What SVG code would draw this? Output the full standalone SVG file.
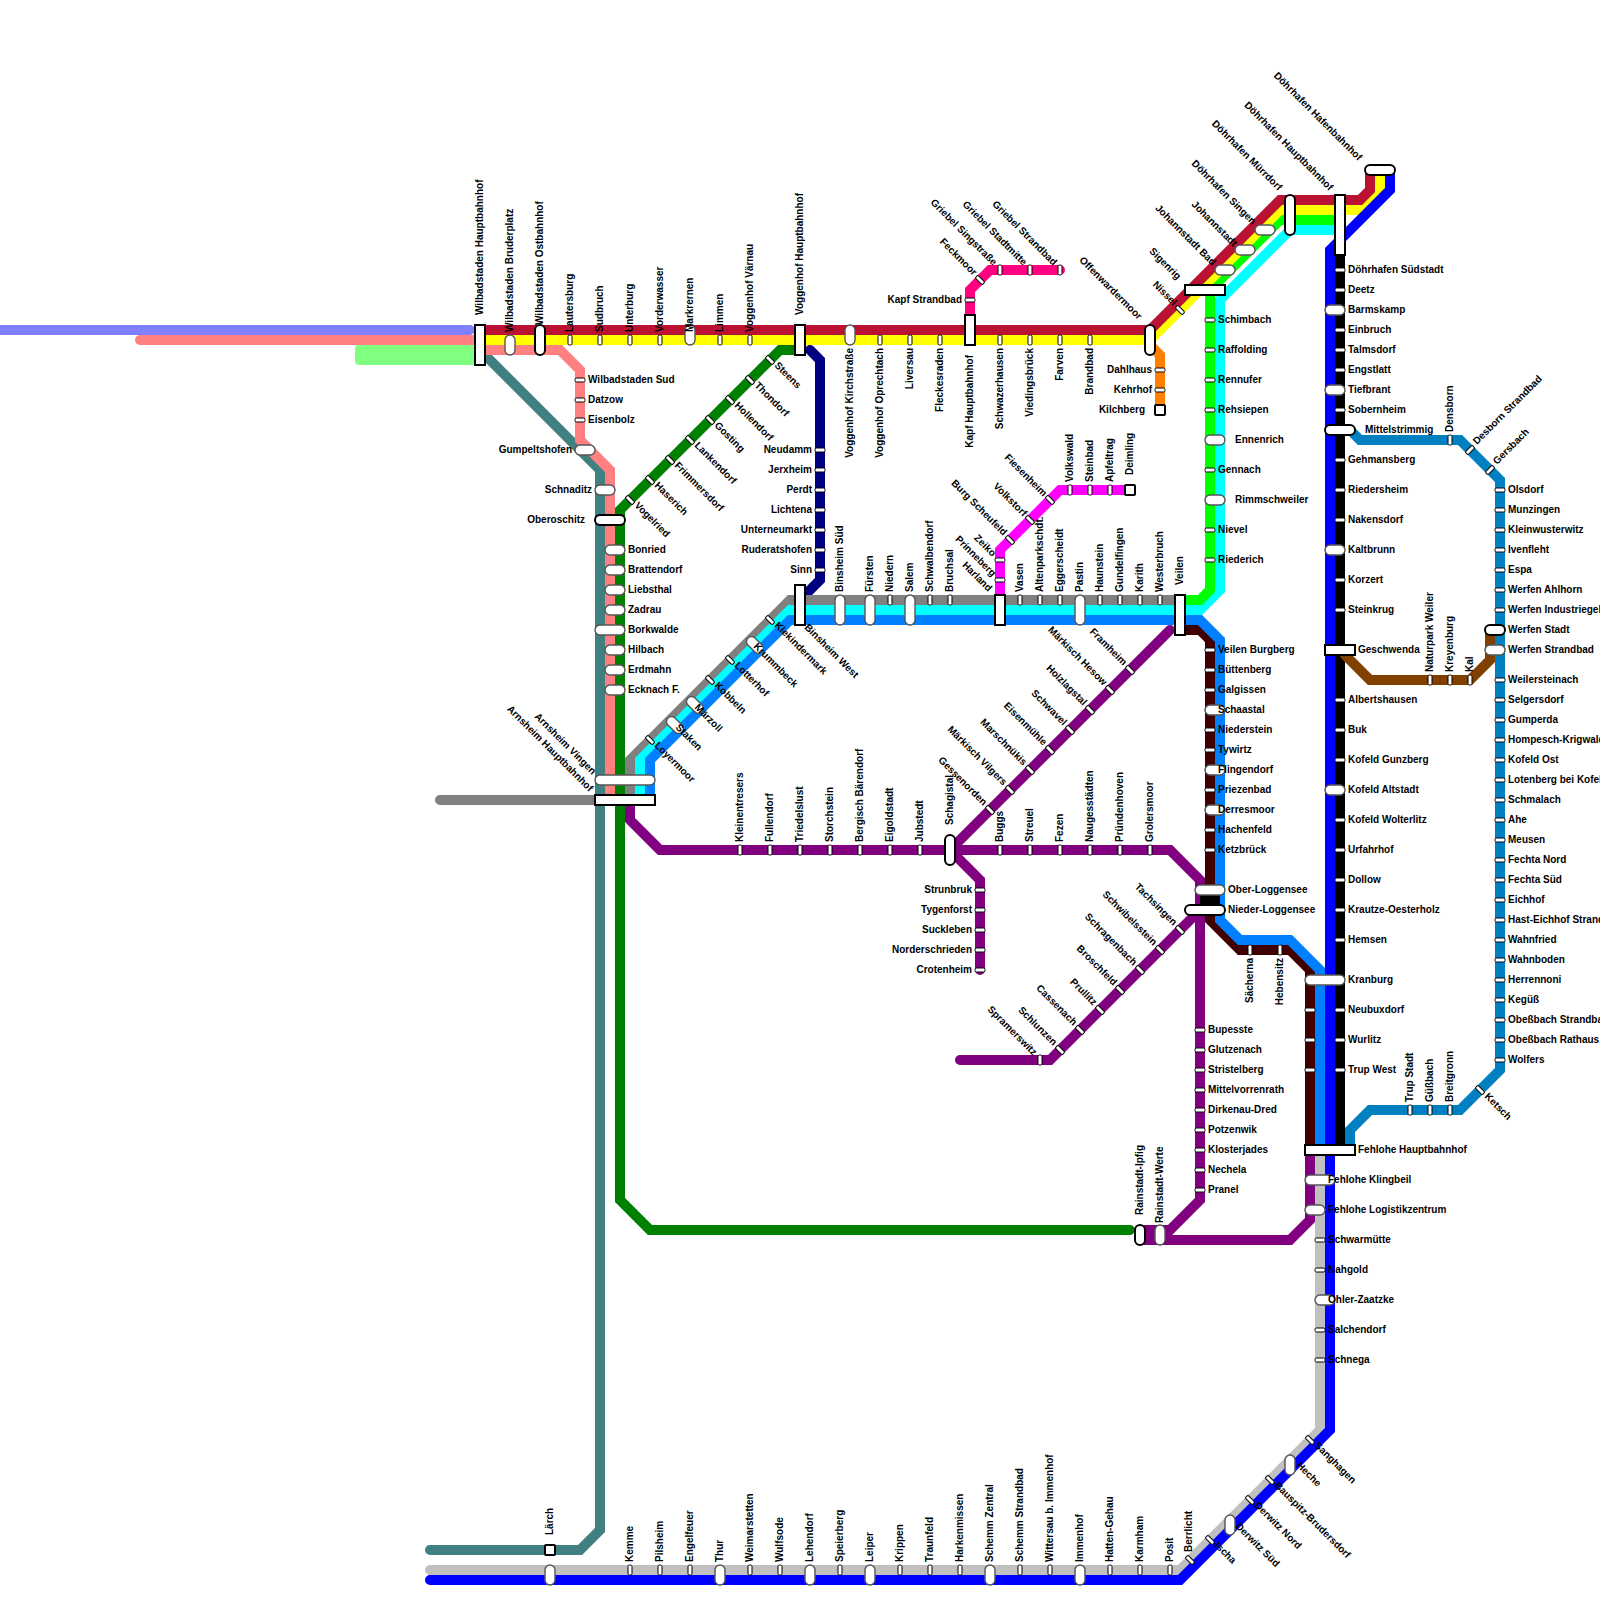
<svg xmlns="http://www.w3.org/2000/svg" width="1600" height="1600" viewBox="0 0 1600 1600">
<style>
text{font:bold 10px "Liberation Sans",Arial,sans-serif;fill:#000}
.e{text-anchor:end}
.sv{fill:#fff;stroke:#000;stroke-width:1;x:-2px;y:-5px;width:4px;height:10px;rx:1.5px}
.sh{fill:#fff;stroke:#000;stroke-width:1;x:-5px;y:-2px;width:10px;height:4px;rx:1.5px}
.p{fill:#fff;stroke:#555;stroke-width:1.4}
.k{fill:#fff;stroke:#000;stroke-width:2}
.r{fill:#fff;stroke:#000;stroke-width:2}
#lines path{fill:none;stroke-width:10;stroke-linecap:round;stroke-linejoin:miter}
</style>
<g id="lines">
<path stroke="#8080ff" d="M0 330H470"/>
<rect fill="#80ff80" x="355" y="345" width="125" height="20" rx="4"/>
<path stroke="#ff8080" d="M140 340H480"/>
<path stroke="#408080" d="M480 350L600 470V1530L580 1550H430"/>
<path stroke="#ff8080" d="M480 350H560L580 370V440L610 470V800"/>
<path stroke="#008000" d="M800 350H780L620 510V1200L650 1230H1130"/>
<path stroke="#000080" d="M810 350L820 360V580L800 600"/>
<path stroke="#808080" d="M440 800H630M630 800V760L790 600H1180"/>
<path stroke="#400000" d="M1180 630H1200L1210 640V920L1240 950H1290L1310 970V1150"/>
<path stroke="#00ffff" d="M640 800V760L790 610H1200L1220 590V300L1290 230H1340"/>
<path stroke="#00ff00" d="M1180 600H1200L1210 590V290L1280 220H1340"/>
<path stroke="#ffff00" d="M480 340H1150L1280 210H1360L1380 190V170"/>
<path stroke="#bb1133" d="M480 330H1150L1280 200H1360L1370 190V170"/>
<path stroke="#0080ff" d="M650 800V760L790 620H1200L1220 640V920L1240 940H1290L1320 970V1150"/>
<path stroke="#c0c0c0" d="M1320 1150V1430L1180 1570H430"/>
<path stroke="#0000ff" d="M1390 170V190L1330 250V1430L1180 1580H430"/>
<path stroke="#000" d="M1340 200V1150"/>
<path stroke="#ff8000" d="M1150 345L1160 355V410"/>
<path stroke="#ff0080" d="M970 320V290L990 270H1060"/>
<path stroke="#ff00ff" d="M1000 595V550L1060 490H1130"/>
<path stroke="#0080c0" d="M1350 430L1360 440H1460L1500 480V1070L1460 1110H1370L1350 1130V1150"/>
<path stroke="#804000" d="M1345 655L1370 680H1470L1490 660V630"/>
<path stroke="#800080" d="M630 805V820L660 850H1170L1200 880V1200L1170 1230H1140M1170 630L950 850L980 880V970M960 1060H1050L1200 910M1310 1155V1220L1290 1240H1140"/>
<path stroke="#000" style="stroke-linecap:butt;stroke-width:20" d="M1210 890V910"/>
</g>
<g id="n-wilbadstaden-hbf"><rect class="r" x="475" y="325" width="10" height="40"/><text transform="translate(483 315) rotate(-90)">Wilbadstaden Hauptbahnhof</text></g>
<g id="n-bruderplatz"><rect class="p" x="505" y="335" width="10" height="20" rx="5"/><text transform="translate(513 332) rotate(-90)">Wilbadstaden Bruderplatz</text></g>
<g id="n-ostbahnhof"><rect class="k" x="535" y="325" width="10" height="30" rx="5"/><text transform="translate(543 325) rotate(-90)">Wilbadstaden Ostbahnhof</text></g>
<g id="n-lautersburg"><rect class="sv" transform="translate(570 340)"/><text transform="translate(573 332) rotate(-90)">Lautersburg</text></g>
<g id="n-sudbruch"><rect class="sv" transform="translate(600 340)"/><text transform="translate(603 332) rotate(-90)">Sudbruch</text></g>
<g id="n-unterburg"><rect class="sv" transform="translate(630 340)"/><text transform="translate(633 332) rotate(-90)">Unterburg</text></g>
<g id="n-vorderwasser"><rect class="sv" transform="translate(660 340)"/><text transform="translate(663 332) rotate(-90)">Vorderwasser</text></g>
<g id="n-markrernen"><rect class="p" x="685" y="325" width="10" height="20" rx="5"/><text transform="translate(693 332) rotate(-90)">Markrernen</text></g>
<g id="n-limmen"><rect class="sv" transform="translate(720 340)"/><text transform="translate(723 332) rotate(-90)">Limmen</text></g>
<g id="n-varnau"><rect class="sv" transform="translate(750 340)"/><text transform="translate(753 332) rotate(-90)">Voggenhof Värnau</text></g>
<g id="n-voggenhof-hbf"><rect class="r" x="795" y="325" width="10" height="30"/><text transform="translate(803 315) rotate(-90)">Voggenhof Hauptbahnhof</text></g>
<g id="n-kirchstrasse"><rect class="p" x="845" y="325" width="10" height="20" rx="5"/><text class="e" transform="translate(853 348) rotate(-90)">Voggenhof Kirchstraße</text></g>
<g id="n-oprechtach"><rect class="sv" transform="translate(880 340)"/><text class="e" transform="translate(883 348) rotate(-90)">Voggenhof Oprechtach</text></g>
<g id="n-liversau"><rect class="sv" transform="translate(910 340)"/><text class="e" transform="translate(913 348) rotate(-90)">Liversau</text></g>
<g id="n-fleckesraden"><rect class="sv" transform="translate(940 340)"/><text class="e" transform="translate(943 348) rotate(-90)">Fleckesraden</text></g>
<g id="n-kapf-hbf"><rect class="r" x="965" y="315" width="10" height="30"/><text class="e" transform="translate(973 355) rotate(-90)">Kapf Hauptbahnhof</text></g>
<g id="n-schwazerhausen"><rect class="sv" transform="translate(1000 340)"/><text class="e" transform="translate(1003 348) rotate(-90)">Schwazerhausen</text></g>
<g id="n-viedingsbruck"><rect class="sv" transform="translate(1030 340)"/><text class="e" transform="translate(1033 348) rotate(-90)">Viedingsbrück</text></g>
<g id="n-farven"><rect class="sv" transform="translate(1060 340)"/><text class="e" transform="translate(1063 348) rotate(-90)">Farven</text></g>
<g id="n-brandbad"><rect class="sv" transform="translate(1090 340)"/><text class="e" transform="translate(1093 348) rotate(-90)">Brandbad</text></g>
<g id="n-offenwardermoor"><rect class="k" x="1145" y="325" width="10" height="30" rx="5"/><text class="e" transform="translate(1138 320) rotate(45)">Offenwardermoor</text></g>
<g id="n-dahlhaus"><rect class="sh" transform="translate(1160 370)"/><text class="e" x="1152" y="373">Dahlhaus</text></g>
<g id="n-kehrhof"><rect class="sh" transform="translate(1160 390)"/><text class="e" x="1152" y="393">Kehrhof</text></g>
<g id="n-kilchberg"><rect class="r" x="1155" y="405" width="10" height="10" rx="1"/><text class="e" x="1145" y="413">Kilchberg</text></g>
<g id="n-kapf-strandbad"><rect class="sh" transform="translate(970 300)"/><text class="e" x="962" y="303">Kapf Strandbad</text></g>
<g id="n-feckmoor"><rect class="sh" transform="translate(980 280) rotate(45)"/><text class="e" transform="translate(973 276) rotate(45)">Feckmoor</text></g>
<g id="n-singstrasse"><rect class="sv" transform="translate(1000 270)"/><text class="e" transform="translate(993 266) rotate(45)">Griebel Singstraße</text></g>
<g id="n-stadtmitte"><rect class="sv" transform="translate(1030 270)"/><text class="e" transform="translate(1023 266) rotate(45)">Griebel Stadtmitte</text></g>
<g id="n-griebel-strandbad"><rect class="sv" transform="translate(1060 270)"/><text class="e" transform="translate(1053 266) rotate(45)">Griebel Strandbad</text></g>
<g id="n-nissel"><rect class="sh" transform="translate(1180 310) rotate(45)"/><text class="e" transform="translate(1173 306) rotate(45)">Nissel</text></g>
<g id="n-sigenrig"><rect class="r" x="1185" y="285" width="40" height="10"/><text class="e" transform="translate(1177 280) rotate(45)">Sigenrig</text></g>
<g id="n-johannstadt-bad"><rect class="p" x="1215" y="265" width="20" height="10" rx="5"/><text class="e" transform="translate(1212 266) rotate(45)">Johannstadt Bad</text></g>
<g id="n-johannstadt"><rect class="p" x="1235" y="245" width="20" height="10" rx="5"/><text class="e" transform="translate(1233 247) rotate(45)">Johannstadt</text></g>
<g id="n-singen"><rect class="p" x="1255" y="225" width="20" height="10" rx="5"/><text class="e" transform="translate(1252 225) rotate(45)">Döhrhafen Singen</text></g>
<g id="n-murrdorf"><rect class="k" x="1285" y="195" width="10" height="40" rx="5"/><text class="e" transform="translate(1278 191) rotate(45)">Döhrhafen Mürrdorf</text></g>
<g id="n-dohrhafen-hbf"><rect class="r" x="1335" y="195" width="10" height="60"/><text class="e" transform="translate(1329 191) rotate(45)">Döhrhafen Hauptbahnhof</text></g>
<g id="n-hafenbahnhof"><rect class="k" x="1365" y="165" width="30" height="10" rx="5"/><text class="e" transform="translate(1358 161) rotate(45)">Döhrhafen Hafenbahnhof</text></g>
<g id="n-wilbad-sud"><rect class="sh" transform="translate(580 380)"/><text x="588" y="383">Wilbadstaden Sud</text></g>
<g id="n-datzow"><rect class="sh" transform="translate(580 400)"/><text x="588" y="403">Datzow</text></g>
<g id="n-eisenbolz"><rect class="sh" transform="translate(580 420)"/><text x="588" y="423">Eisenbolz</text></g>
<g id="n-gumpeltshofen"><rect class="p" x="575" y="445" width="20" height="10" rx="5"/><text class="e" x="572" y="453">Gumpeltshofen</text></g>
<g id="n-schnaditz"><rect class="p" x="595" y="485" width="20" height="10" rx="5"/><text class="e" x="592" y="493">Schnaditz</text></g>
<g id="n-oberoschitz"><rect class="k" x="595" y="515" width="30" height="10" rx="5"/><text class="e" x="585" y="523">Oberoschitz</text></g>
<g id="n-bonried"><rect class="p" x="605" y="545" width="20" height="10" rx="5"/><text x="628" y="553">Bonried</text></g>
<g id="n-brattendorf"><rect class="p" x="605" y="565" width="20" height="10" rx="5"/><text x="628" y="573">Brattendorf</text></g>
<g id="n-liebsthal"><rect class="p" x="605" y="585" width="20" height="10" rx="5"/><text x="628" y="593">Liebsthal</text></g>
<g id="n-zadrau"><rect class="p" x="605" y="605" width="20" height="10" rx="5"/><text x="628" y="613">Zadrau</text></g>
<g id="n-borkwalde"><rect class="p" x="595" y="625" width="30" height="10" rx="5"/><text x="628" y="633">Borkwalde</text></g>
<g id="n-hilbach"><rect class="p" x="605" y="645" width="20" height="10" rx="5"/><text x="628" y="653">Hilbach</text></g>
<g id="n-erdmahn"><rect class="p" x="605" y="665" width="20" height="10" rx="5"/><text x="628" y="673">Erdmahn</text></g>
<g id="n-ecknach"><rect class="p" x="605" y="685" width="20" height="10" rx="5"/><text x="628" y="693">Ecknach F.</text></g>
<g id="n-vingen"><rect class="p" x="595" y="775" width="60" height="10" rx="5"/><text class="e" transform="translate(592 775) rotate(45)">Arnsheim Vingen</text></g>
<g id="n-arnsheim-hbf"><rect class="r" x="595" y="795" width="60" height="10"/><text class="e" transform="translate(589 792) rotate(45)">Arnsheim Hauptbahnhof</text></g>
<g id="n-vogelried"><rect class="sh" transform="translate(630 500) rotate(45)"/><text transform="translate(634 506) rotate(45)">Vogelried</text></g>
<g id="n-haserich"><rect class="sh" transform="translate(650 480) rotate(45)"/><text transform="translate(654 486) rotate(45)">Haserich</text></g>
<g id="n-frimmersdorf"><rect class="sh" transform="translate(670 460) rotate(45)"/><text transform="translate(674 466) rotate(45)">Frimmersdorf</text></g>
<g id="n-lankendorf"><rect class="sh" transform="translate(690 440) rotate(45)"/><text transform="translate(694 446) rotate(45)">Lankendorf</text></g>
<g id="n-gosting"><rect class="sh" transform="translate(710 420) rotate(45)"/><text transform="translate(714 426) rotate(45)">Gosting</text></g>
<g id="n-hollendorf"><rect class="sh" transform="translate(730 400) rotate(45)"/><text transform="translate(734 406) rotate(45)">Hollendorf</text></g>
<g id="n-thondorf"><rect class="sh" transform="translate(750 380) rotate(45)"/><text transform="translate(754 386) rotate(45)">Thondorf</text></g>
<g id="n-steens"><rect class="sh" transform="translate(770 360) rotate(45)"/><text transform="translate(774 366) rotate(45)">Steens</text></g>
<g id="n-neudamm"><rect class="sh" transform="translate(820 450)"/><text class="e" x="812" y="453">Neudamm</text></g>
<g id="n-jerxheim"><rect class="sh" transform="translate(820 470)"/><text class="e" x="812" y="473">Jerxheim</text></g>
<g id="n-perdt"><rect class="sh" transform="translate(820 490)"/><text class="e" x="812" y="493">Perdt</text></g>
<g id="n-lichtena"><rect class="sh" transform="translate(820 510)"/><text class="e" x="812" y="513">Lichtena</text></g>
<g id="n-unterneumarkt"><rect class="sh" transform="translate(820 530)"/><text class="e" x="812" y="533">Unterneumarkt</text></g>
<g id="n-ruderatshofen"><rect class="sh" transform="translate(820 550)"/><text class="e" x="812" y="553">Ruderatshofen</text></g>
<g id="n-sinn"><rect class="sh" transform="translate(820 570)"/><text class="e" x="812" y="573">Sinn</text></g>
<g id="n-binsheim-west"><rect class="r" x="795" y="585" width="10" height="40"/><text transform="translate(804 628) rotate(45)">Binsheim West</text></g>
<g id="n-binsheim-sud"><rect class="p" x="835" y="595" width="10" height="30" rx="5"/><text transform="translate(843 592) rotate(-90)">Binsheim Süd</text></g>
<g id="n-fursten"><rect class="p" x="865" y="595" width="10" height="30" rx="5"/><text transform="translate(873 592) rotate(-90)">Fürsten</text></g>
<g id="n-niedern"><rect class="sv" transform="translate(890 600)"/><text transform="translate(893 592) rotate(-90)">Niedern</text></g>
<g id="n-salem"><rect class="p" x="905" y="595" width="10" height="30" rx="5"/><text transform="translate(913 592) rotate(-90)">Salem</text></g>
<g id="n-schwalbendorf"><rect class="sv" transform="translate(930 600)"/><text transform="translate(933 592) rotate(-90)">Schwalbendorf</text></g>
<g id="n-bruchsal"><rect class="sv" transform="translate(950 600)"/><text transform="translate(953 592) rotate(-90)">Bruchsal</text></g>
<g id="n-harland"><rect class="r" x="995" y="595" width="10" height="30"/><text class="e" transform="translate(988 592) rotate(45)">Harland</text></g>
<g id="n-prinneberg"><rect class="sh" transform="translate(1000 580)"/><text class="e" transform="translate(992 577) rotate(45)">Prinneberg</text></g>
<g id="n-zeiko"><rect class="sh" transform="translate(1000 560)"/><text class="e" transform="translate(992 557) rotate(45)">Zeiko</text></g>
<g id="n-burg-scheufeld"><rect class="sh" transform="translate(1010 540) rotate(45)"/><text class="e" transform="translate(1003 536) rotate(45)">Burg Scheufeld</text></g>
<g id="n-volkstorf"><rect class="sh" transform="translate(1030 520) rotate(45)"/><text class="e" transform="translate(1023 517) rotate(45)">Volkstorf</text></g>
<g id="n-fiesenheim"><rect class="sh" transform="translate(1050 500) rotate(45)"/><text class="e" transform="translate(1043 497) rotate(45)">Fiesenheim</text></g>
<g id="n-volkswald"><rect class="sv" transform="translate(1070 490)"/><text transform="translate(1073 482) rotate(-90)">Volkswald</text></g>
<g id="n-steinbad"><rect class="sv" transform="translate(1090 490)"/><text transform="translate(1093 482) rotate(-90)">Steinbad</text></g>
<g id="n-apfeltrag"><rect class="sv" transform="translate(1110 490)"/><text transform="translate(1113 482) rotate(-90)">Apfeltrag</text></g>
<g id="n-deimling"><rect class="r" x="1125" y="485" width="10" height="10" rx="1"/><text transform="translate(1133 475) rotate(-90)">Deimling</text></g>
<g id="n-vasen"><rect class="sv" transform="translate(1020 600)"/><text transform="translate(1023 592) rotate(-90)">Vasen</text></g>
<g id="n-altenparkschdt"><rect class="sv" transform="translate(1040 600)"/><text transform="translate(1043 592) rotate(-90)">Altenparkschdt.</text></g>
<g id="n-eggerscheidt"><rect class="sv" transform="translate(1060 600)"/><text transform="translate(1063 592) rotate(-90)">Eggerscheidt</text></g>
<g id="n-pastin"><rect class="p" x="1075" y="595" width="10" height="30" rx="5"/><text transform="translate(1083 592) rotate(-90)">Pastin</text></g>
<g id="n-haunstein"><rect class="sv" transform="translate(1100 600)"/><text transform="translate(1103 592) rotate(-90)">Haunstein</text></g>
<g id="n-gundelfingen"><rect class="sv" transform="translate(1120 600)"/><text transform="translate(1123 592) rotate(-90)">Gundelfingen</text></g>
<g id="n-karith"><rect class="sv" transform="translate(1140 600)"/><text transform="translate(1143 592) rotate(-90)">Karith</text></g>
<g id="n-westerbruch"><rect class="sv" transform="translate(1160 600)"/><text transform="translate(1163 592) rotate(-90)">Westerbruch</text></g>
<g id="n-veilen"><rect class="r" x="1175" y="595" width="10" height="40"/><text transform="translate(1183 585) rotate(-90)">Veilen</text></g>
<g id="n-loyermoor"><rect class="sh" transform="translate(650 740) rotate(45)"/><text transform="translate(654 746) rotate(45)">Loyermoor</text></g>
<g id="n-staken"><rect class="p" x="-10" y="-5" width="20" height="10" rx="5" transform="translate(675 725) rotate(45)"/><text transform="translate(675 728) rotate(45)">Staken</text></g>
<g id="n-marzoll"><rect class="p" x="-10" y="-5" width="20" height="10" rx="5" transform="translate(695 705) rotate(45)"/><text transform="translate(694 708) rotate(45)">Märzoll</text></g>
<g id="n-kobbeln"><rect class="sh" transform="translate(710 680) rotate(45)"/><text transform="translate(714 686) rotate(45)">Kobbeln</text></g>
<g id="n-lotterhof"><rect class="sh" transform="translate(730 660) rotate(45)"/><text transform="translate(734 666) rotate(45)">Lotterhof</text></g>
<g id="n-krummbeck"><rect class="p" x="-10" y="-5" width="20" height="10" rx="5" transform="translate(755 645) rotate(45)"/><text transform="translate(753 647) rotate(45)">Krummbeck</text></g>
<g id="n-klekindermark"><rect class="sh" transform="translate(770 620) rotate(45)"/><text transform="translate(774 626) rotate(45)">Klekindermark</text></g>
<g id="n-kleinentresers"><rect class="sv" transform="translate(740 850)"/><text transform="translate(743 842) rotate(-90)">Kleinentresers</text></g>
<g id="n-fullendorf"><rect class="sv" transform="translate(770 850)"/><text transform="translate(773 842) rotate(-90)">Fullendorf</text></g>
<g id="n-triedelslust"><rect class="sv" transform="translate(800 850)"/><text transform="translate(803 842) rotate(-90)">Triedelslust</text></g>
<g id="n-storchstein"><rect class="sv" transform="translate(830 850)"/><text transform="translate(833 842) rotate(-90)">Storchstein</text></g>
<g id="n-barendorf"><rect class="sv" transform="translate(860 850)"/><text transform="translate(863 842) rotate(-90)">Bergisch Bärendorf</text></g>
<g id="n-eigoldstadt"><rect class="sv" transform="translate(890 850)"/><text transform="translate(893 842) rotate(-90)">Eigoldstadt</text></g>
<g id="n-jubstedt"><rect class="sv" transform="translate(920 850)"/><text transform="translate(923 842) rotate(-90)">Jubstedt</text></g>
<g id="n-schagistal"><rect class="k" x="945" y="835" width="10" height="30" rx="5"/><text transform="translate(953 825) rotate(-90)">Schagistal</text></g>
<g id="n-buggs"><rect class="sv" transform="translate(1000 850)"/><text transform="translate(1003 842) rotate(-90)">Buggs</text></g>
<g id="n-streuel"><rect class="sv" transform="translate(1030 850)"/><text transform="translate(1033 842) rotate(-90)">Streuel</text></g>
<g id="n-fezen"><rect class="sv" transform="translate(1060 850)"/><text transform="translate(1063 842) rotate(-90)">Fezen</text></g>
<g id="n-naugesstadten"><rect class="sv" transform="translate(1090 850)"/><text transform="translate(1093 842) rotate(-90)">Naugesstädten</text></g>
<g id="n-prundenhoven"><rect class="sv" transform="translate(1120 850)"/><text transform="translate(1123 842) rotate(-90)">Pründenhoven</text></g>
<g id="n-grolersmoor"><rect class="sv" transform="translate(1150 850)"/><text transform="translate(1153 842) rotate(-90)">Grolersmoor</text></g>
<g id="n-gessenorden"><rect class="sh" transform="translate(990 810) rotate(45)"/><text class="e" transform="translate(983 806) rotate(45)">Gessenorden</text></g>
<g id="n-vilgers"><rect class="sh" transform="translate(1010 790) rotate(45)"/><text class="e" transform="translate(1003 786) rotate(45)">Märkisch Vilgers</text></g>
<g id="n-marschnukis"><rect class="sh" transform="translate(1030 770) rotate(45)"/><text class="e" transform="translate(1023 766) rotate(45)">Marschnükis</text></g>
<g id="n-eisenmuhle"><rect class="sh" transform="translate(1050 750) rotate(45)"/><text class="e" transform="translate(1043 746) rotate(45)">Eisenmühle</text></g>
<g id="n-schwavel"><rect class="sh" transform="translate(1070 730) rotate(45)"/><text class="e" transform="translate(1063 726) rotate(45)">Schwavel</text></g>
<g id="n-holzlagstal"><rect class="sh" transform="translate(1090 710) rotate(45)"/><text class="e" transform="translate(1083 706) rotate(45)">Holzlagstal</text></g>
<g id="n-hesow"><rect class="sh" transform="translate(1110 690) rotate(45)"/><text class="e" transform="translate(1103 686) rotate(45)">Märkisch Hesow</text></g>
<g id="n-framheim"><rect class="sh" transform="translate(1130 670) rotate(45)"/><text class="e" transform="translate(1123 666) rotate(45)">Framheim</text></g>
<g id="n-strunbruk"><rect class="sh" transform="translate(980 890)"/><text class="e" x="972" y="893">Strunbruk</text></g>
<g id="n-tygenforst"><rect class="sh" transform="translate(980 910)"/><text class="e" x="972" y="913">Tygenforst</text></g>
<g id="n-suckleben"><rect class="sh" transform="translate(980 930)"/><text class="e" x="972" y="933">Suckleben</text></g>
<g id="n-norderschrieden"><rect class="sh" transform="translate(980 950)"/><text class="e" x="972" y="953">Norderschrieden</text></g>
<g id="n-crotenheim"><rect class="sh" transform="translate(980 970)"/><text class="e" x="972" y="973">Crotenheim</text></g>
<g id="n-tachsingen"><rect class="sh" transform="translate(1180 930) rotate(45)"/><text class="e" transform="translate(1173 926) rotate(45)">Tachsingen</text></g>
<g id="n-schwibelsstein"><rect class="sh" transform="translate(1160 950) rotate(45)"/><text class="e" transform="translate(1153 946) rotate(45)">Schwibelsstein</text></g>
<g id="n-schragenbach"><rect class="sh" transform="translate(1140 970) rotate(45)"/><text class="e" transform="translate(1133 966) rotate(45)">Schragenbach</text></g>
<g id="n-broschfeld"><rect class="sh" transform="translate(1120 990) rotate(45)"/><text class="e" transform="translate(1113 986) rotate(45)">Broschfeld</text></g>
<g id="n-prullitz"><rect class="sh" transform="translate(1100 1010) rotate(45)"/><text class="e" transform="translate(1093 1006) rotate(45)">Prullitz</text></g>
<g id="n-cassenach"><rect class="sh" transform="translate(1080 1030) rotate(45)"/><text class="e" transform="translate(1073 1026) rotate(45)">Cassenach</text></g>
<g id="n-schlunzen"><rect class="sh" transform="translate(1060 1050) rotate(45)"/><text class="e" transform="translate(1053 1046) rotate(45)">Schlunzen</text></g>
<g id="n-spramerswitz"><rect class="sv" transform="translate(1040 1060)"/><text class="e" transform="translate(1033 1056) rotate(45)">Spramerswitz</text></g>
<g id="n-bupesste"><rect class="sh" transform="translate(1200 1030)"/><text x="1208" y="1033">Bupesste</text></g>
<g id="n-glutzenach"><rect class="sh" transform="translate(1200 1050)"/><text x="1208" y="1053">Glutzenach</text></g>
<g id="n-stristelberg"><rect class="sh" transform="translate(1200 1070)"/><text x="1208" y="1073">Stristelberg</text></g>
<g id="n-mittelvorrenrath"><rect class="sh" transform="translate(1200 1090)"/><text x="1208" y="1093">Mittelvorrenrath</text></g>
<g id="n-dirkenau"><rect class="sh" transform="translate(1200 1110)"/><text x="1208" y="1113">Dirkenau-Dred</text></g>
<g id="n-potzenwik"><rect class="sh" transform="translate(1200 1130)"/><text x="1208" y="1133">Potzenwik</text></g>
<g id="n-klosterjades"><rect class="sh" transform="translate(1200 1150)"/><text x="1208" y="1153">Klosterjades</text></g>
<g id="n-nechela"><rect class="sh" transform="translate(1200 1170)"/><text x="1208" y="1173">Nechela</text></g>
<g id="n-pranel"><rect class="sh" transform="translate(1200 1190)"/><text x="1208" y="1193">Pranel</text></g>
<g id="n-ipfig"><rect class="k" x="1135" y="1225" width="10" height="20" rx="5"/><text transform="translate(1143 1215) rotate(-90)">Rainstadt-Ipfig</text></g>
<g id="n-werte"><rect class="p" x="1155" y="1225" width="10" height="20" rx="5"/><text transform="translate(1163 1223) rotate(-90)">Rainstadt-Werte</text></g>
<g id="n-schimbach"><rect class="sh" transform="translate(1210 320)"/><text x="1218" y="323">Schimbach</text></g>
<g id="n-raffolding"><rect class="sh" transform="translate(1210 350)"/><text x="1218" y="353">Raffolding</text></g>
<g id="n-rennufer"><rect class="sh" transform="translate(1210 380)"/><text x="1218" y="383">Rennufer</text></g>
<g id="n-rehsiepen"><rect class="sh" transform="translate(1210 410)"/><text x="1218" y="413">Rehsiepen</text></g>
<g id="n-ennenrich"><rect class="p" x="1205" y="435" width="20" height="10" rx="5"/><text x="1235" y="443">Ennenrich</text></g>
<g id="n-gennach"><rect class="sh" transform="translate(1210 470)"/><text x="1218" y="473">Gennach</text></g>
<g id="n-rimmschweiler"><rect class="p" x="1205" y="495" width="20" height="10" rx="5"/><text x="1235" y="503">Rimmschweiler</text></g>
<g id="n-nievel"><rect class="sh" transform="translate(1210 530)"/><text x="1218" y="533">Nievel</text></g>
<g id="n-riederich"><rect class="sh" transform="translate(1210 560)"/><text x="1218" y="563">Riederich</text></g>
<g id="n-burgberg"><rect class="sh" transform="translate(1210 650)"/><text x="1218" y="653">Veilen Burgberg</text></g>
<g id="n-buttenberg"><rect class="sh" transform="translate(1210 670)"/><text x="1218" y="673">Büttenberg</text></g>
<g id="n-galgissen"><rect class="sh" transform="translate(1210 690)"/><text x="1218" y="693">Galgissen</text></g>
<g id="n-schaastal"><rect class="p" x="1205" y="705" width="20" height="10" rx="5"/><text x="1218" y="713">Schaastal</text></g>
<g id="n-niederstein"><rect class="sh" transform="translate(1210 730)"/><text x="1218" y="733">Niederstein</text></g>
<g id="n-tywirtz"><rect class="sh" transform="translate(1210 750)"/><text x="1218" y="753">Tywirtz</text></g>
<g id="n-flingendorf"><rect class="p" x="1205" y="765" width="20" height="10" rx="5"/><text x="1218" y="773">Flingendorf</text></g>
<g id="n-priezenbad"><rect class="sh" transform="translate(1210 790)"/><text x="1218" y="793">Priezenbad</text></g>
<g id="n-derresmoor"><rect class="p" x="1205" y="805" width="20" height="10" rx="5"/><text x="1218" y="813">Derresmoor</text></g>
<g id="n-hachenfeld"><rect class="sh" transform="translate(1210 830)"/><text x="1218" y="833">Hachenfeld</text></g>
<g id="n-ketzbruck"><rect class="sh" transform="translate(1210 850)"/><text x="1218" y="853">Ketzbrück</text></g>
<g id="n-ober-loggensee"><rect class="p" x="1195" y="885" width="30" height="10" rx="5"/><text x="1228" y="893">Ober-Loggensee</text></g>
<g id="n-nieder-loggensee"><rect class="k" x="1185" y="905" width="40" height="10" rx="5"/><text x="1228" y="913">Nieder-Loggensee</text></g>
<g id="n-sacherna"><rect class="sv" transform="translate(1250 950)"/><text class="e" transform="translate(1253 958) rotate(-90)">Sächerna</text></g>
<g id="n-hebensitz"><rect class="sv" transform="translate(1280 950)"/><text class="e" transform="translate(1283 958) rotate(-90)">Hebensitz</text></g>
<g id="n-sudstadt"><rect class="sh" transform="translate(1340 270)"/><text x="1348" y="273">Döhrhafen Südstadt</text></g>
<g id="n-deetz"><rect class="sh" transform="translate(1340 290)"/><text x="1348" y="293">Deetz</text></g>
<g id="n-barmskamp"><rect class="p" x="1325" y="305" width="20" height="10" rx="5"/><text x="1348" y="313">Barmskamp</text></g>
<g id="n-einbruch"><rect class="sh" transform="translate(1340 330)"/><text x="1348" y="333">Einbruch</text></g>
<g id="n-talmsdorf"><rect class="sh" transform="translate(1340 350)"/><text x="1348" y="353">Talmsdorf</text></g>
<g id="n-engstlatt"><rect class="sh" transform="translate(1340 370)"/><text x="1348" y="373">Engstlatt</text></g>
<g id="n-tiefbrant"><rect class="p" x="1325" y="385" width="20" height="10" rx="5"/><text x="1348" y="393">Tiefbrant</text></g>
<g id="n-sobernheim"><rect class="sh" transform="translate(1340 410)"/><text x="1348" y="413">Sobernheim</text></g>
<g id="n-mittelstrimmig"><rect class="k" x="1325" y="425" width="30" height="10" rx="5"/><text x="1365" y="433">Mittelstrimmig</text></g>
<g id="n-gehmansberg"><rect class="sh" transform="translate(1340 460)"/><text x="1348" y="463">Gehmansberg</text></g>
<g id="n-riedersheim"><rect class="sh" transform="translate(1340 490)"/><text x="1348" y="493">Riedersheim</text></g>
<g id="n-nakensdorf"><rect class="sh" transform="translate(1340 520)"/><text x="1348" y="523">Nakensdorf</text></g>
<g id="n-kaltbrunn"><rect class="p" x="1325" y="545" width="20" height="10" rx="5"/><text x="1348" y="553">Kaltbrunn</text></g>
<g id="n-korzert"><rect class="sh" transform="translate(1340 580)"/><text x="1348" y="583">Korzert</text></g>
<g id="n-steinkrug"><rect class="sh" transform="translate(1340 610)"/><text x="1348" y="613">Steinkrug</text></g>
<g id="n-geschwenda"><rect class="r" x="1325" y="645" width="30" height="10"/><text x="1358" y="653">Geschwenda</text></g>
<g id="n-albertshausen"><rect class="sh" transform="translate(1340 700)"/><text x="1348" y="703">Albertshausen</text></g>
<g id="n-buk"><rect class="sh" transform="translate(1340 730)"/><text x="1348" y="733">Buk</text></g>
<g id="n-gunzberg"><rect class="sh" transform="translate(1340 760)"/><text x="1348" y="763">Kofeld Gunzberg</text></g>
<g id="n-altstadt"><rect class="p" x="1325" y="785" width="20" height="10" rx="5"/><text x="1348" y="793">Kofeld Altstadt</text></g>
<g id="n-wolterlitz"><rect class="sh" transform="translate(1340 820)"/><text x="1348" y="823">Kofeld Wolterlitz</text></g>
<g id="n-urfahrhof"><rect class="sh" transform="translate(1340 850)"/><text x="1348" y="853">Urfahrhof</text></g>
<g id="n-dollow"><rect class="sh" transform="translate(1340 880)"/><text x="1348" y="883">Dollow</text></g>
<g id="n-krautze"><rect class="sh" transform="translate(1340 910)"/><text x="1348" y="913">Krautze-Oesterholz</text></g>
<g id="n-hemsen"><rect class="sh" transform="translate(1340 940)"/><text x="1348" y="943">Hemsen</text></g>
<g id="n-kranburg"><rect class="p" x="1305" y="975" width="40" height="10" rx="5"/><text x="1348" y="983">Kranburg</text></g>
<g id="n-neubuxdorf"><rect class="sh" transform="translate(1310 1010)"/><rect class="sh" transform="translate(1340 1010)"/><text x="1348" y="1013">Neubuxdorf</text></g>
<g id="n-wurlitz"><rect class="sh" transform="translate(1310 1040)"/><rect class="sh" transform="translate(1340 1040)"/><text x="1348" y="1043">Wurlitz</text></g>
<g id="n-trup-west"><rect class="sh" transform="translate(1310 1070)"/><rect class="sh" transform="translate(1340 1070)"/><text x="1348" y="1073">Trup West</text></g>
<g id="n-fehlohe-hbf"><rect class="r" x="1305" y="1145" width="50" height="10"/><text x="1358" y="1153">Fehlohe Hauptbahnhof</text></g>
<g id="n-klingbeil"><rect class="p" x="1305" y="1175" width="30" height="10" rx="5"/><text x="1328" y="1183">Fehlohe Klingbeil</text></g>
<g id="n-logistikzentrum"><rect class="p" x="1305" y="1205" width="20" height="10" rx="5"/><text x="1328" y="1213">Fehlohe Logistikzentrum</text></g>
<g id="n-schwarmutte"><rect class="sh" transform="translate(1320 1240)"/><text x="1328" y="1243">Schwarmütte</text></g>
<g id="n-nahgold"><rect class="sh" transform="translate(1320 1270)"/><text x="1328" y="1273">Nahgold</text></g>
<g id="n-ohler"><rect class="p" x="1315" y="1295" width="20" height="10" rx="5"/><text x="1328" y="1303">Ohler-Zaatzke</text></g>
<g id="n-salchendorf"><rect class="sh" transform="translate(1320 1330)"/><text x="1328" y="1333">Salchendorf</text></g>
<g id="n-schnega"><rect class="sh" transform="translate(1320 1360)"/><text x="1328" y="1363">Schnega</text></g>
<g id="n-densborn"><rect class="sv" transform="translate(1450 440)"/><text transform="translate(1453 432) rotate(-90)">Densborn</text></g>
<g id="n-desborn"><rect class="sh" transform="translate(1470 450) rotate(-45)"/><text transform="translate(1477 445) rotate(-45)">Desborn Strandbad</text></g>
<g id="n-gersbach"><rect class="sh" transform="translate(1490 470) rotate(-45)"/><text transform="translate(1497 465) rotate(-45)">Gersbach</text></g>
<g id="n-olsdorf"><rect class="sh" transform="translate(1500 490)"/><text x="1508" y="493">Olsdorf</text></g>
<g id="n-munzingen"><rect class="sh" transform="translate(1500 510)"/><text x="1508" y="513">Munzingen</text></g>
<g id="n-kleinwusterwitz"><rect class="sh" transform="translate(1500 530)"/><text x="1508" y="533">Kleinwusterwitz</text></g>
<g id="n-ivenfleht"><rect class="sh" transform="translate(1500 550)"/><text x="1508" y="553">Ivenfleht</text></g>
<g id="n-espa"><rect class="sh" transform="translate(1500 570)"/><text x="1508" y="573">Espa</text></g>
<g id="n-ahlhorn"><rect class="sh" transform="translate(1500 590)"/><text x="1508" y="593">Werfen Ahlhorn</text></g>
<g id="n-industriegebiet"><rect class="sh" transform="translate(1500 610)"/><text x="1508" y="613">Werfen Industriegebiet</text></g>
<g id="n-werfen-stadt"><rect class="k" x="1485" y="625" width="20" height="10" rx="5"/><text x="1508" y="633">Werfen Stadt</text></g>
<g id="n-werfen-strandbad"><rect class="p" x="1485" y="645" width="20" height="10" rx="5"/><text x="1508" y="653">Werfen Strandbad</text></g>
<g id="n-weilersteinach"><rect class="sh" transform="translate(1500 680)"/><text x="1508" y="683">Weilersteinach</text></g>
<g id="n-selgersdorf"><rect class="sh" transform="translate(1500 700)"/><text x="1508" y="703">Selgersdorf</text></g>
<g id="n-gumperda"><rect class="sh" transform="translate(1500 720)"/><text x="1508" y="723">Gumperda</text></g>
<g id="n-hompesch"><rect class="sh" transform="translate(1500 740)"/><text x="1508" y="743">Hompesch-Krigwald</text></g>
<g id="n-kofeld-ost"><rect class="sh" transform="translate(1500 760)"/><text x="1508" y="763">Kofeld Ost</text></g>
<g id="n-lotenberg"><rect class="sh" transform="translate(1500 780)"/><text x="1508" y="783">Lotenberg bei Kofeld</text></g>
<g id="n-schmalach"><rect class="sh" transform="translate(1500 800)"/><text x="1508" y="803">Schmalach</text></g>
<g id="n-ahe"><rect class="sh" transform="translate(1500 820)"/><text x="1508" y="823">Ahe</text></g>
<g id="n-meusen"><rect class="sh" transform="translate(1500 840)"/><text x="1508" y="843">Meusen</text></g>
<g id="n-fechta-nord"><rect class="sh" transform="translate(1500 860)"/><text x="1508" y="863">Fechta Nord</text></g>
<g id="n-fechta-sud"><rect class="sh" transform="translate(1500 880)"/><text x="1508" y="883">Fechta Süd</text></g>
<g id="n-eichhof"><rect class="sh" transform="translate(1500 900)"/><text x="1508" y="903">Eichhof</text></g>
<g id="n-hast"><rect class="sh" transform="translate(1500 920)"/><text x="1508" y="923">Hast-Eichhof Strand</text></g>
<g id="n-wahnfried"><rect class="sh" transform="translate(1500 940)"/><text x="1508" y="943">Wahnfried</text></g>
<g id="n-wahnboden"><rect class="sh" transform="translate(1500 960)"/><text x="1508" y="963">Wahnboden</text></g>
<g id="n-herrennoni"><rect class="sh" transform="translate(1500 980)"/><text x="1508" y="983">Herrennoni</text></g>
<g id="n-keguss"><rect class="sh" transform="translate(1500 1000)"/><text x="1508" y="1003">Kegüß</text></g>
<g id="n-obessbach-strandbad"><rect class="sh" transform="translate(1500 1020)"/><text x="1508" y="1023">Obeßbach Strandbad</text></g>
<g id="n-obessbach-rathaus"><rect class="sh" transform="translate(1500 1040)"/><text x="1508" y="1043">Obeßbach Rathaus</text></g>
<g id="n-wolfers"><rect class="sh" transform="translate(1500 1060)"/><text x="1508" y="1063">Wolfers</text></g>
<g id="n-ketsch"><rect class="sh" transform="translate(1480 1090) rotate(45)"/><text transform="translate(1484 1097) rotate(45)">Ketsch</text></g>
<g id="n-trup-stadt"><rect class="sv" transform="translate(1410 1110)"/><text transform="translate(1413 1102) rotate(-90)">Trup Stadt</text></g>
<g id="n-gussbach"><rect class="sv" transform="translate(1430 1110)"/><text transform="translate(1433 1102) rotate(-90)">Güßbach</text></g>
<g id="n-breitgronn"><rect class="sv" transform="translate(1450 1110)"/><text transform="translate(1453 1102) rotate(-90)">Breitgronn</text></g>
<g id="n-naturpark"><rect class="sv" transform="translate(1430 680)"/><text transform="translate(1433 672) rotate(-90)">Naturpark Weiler</text></g>
<g id="n-kreyenburg"><rect class="sv" transform="translate(1450 680)"/><text transform="translate(1453 672) rotate(-90)">Kreyenburg</text></g>
<g id="n-kal"><rect class="sv" transform="translate(1470 680)"/><text transform="translate(1473 672) rotate(-90)">Kal</text></g>
<g id="n-sanghagen"><rect class="sh" transform="translate(1310 1440) rotate(45)"/><text transform="translate(1314 1446) rotate(45)">Sanghagen</text></g>
<g id="n-heche"><rect class="p" x="1285" y="1455" width="10" height="20" rx="5"/><text transform="translate(1296 1466) rotate(45)">Heche</text></g>
<g id="n-bauspitz"><rect class="sh" transform="translate(1270 1480) rotate(45)"/><text transform="translate(1274 1486) rotate(45)">Bauspitz-Brudersdorf</text></g>
<g id="n-derwitz-nord"><rect class="sh" transform="translate(1250 1500) rotate(45)"/><text transform="translate(1254 1506) rotate(45)">Derwitz Nord</text></g>
<g id="n-derwitz-sud"><rect class="p" x="1225" y="1515" width="10" height="20" rx="5"/><text transform="translate(1235 1527) rotate(45)">Derwitz Süd</text></g>
<g id="n-ischa"><rect class="sh" transform="translate(1210 1540) rotate(45)"/><text transform="translate(1214 1546) rotate(45)">Ischa</text></g>
<g id="n-berrlicht"><rect class="sh" transform="translate(1190 1560) rotate(45)"/><text transform="translate(1192 1552) rotate(-90)">Berrlicht</text></g>
<g id="n-larch"><rect class="r" x="545" y="1545" width="10" height="10" rx="1"/><text transform="translate(553 1535) rotate(-90)">Lärch</text></g>
<g id="n-larch2"><rect class="p" x="545" y="1565" width="10" height="20" rx="5"/></g>
<g id="n-kemme"><rect class="sv" transform="translate(630 1570)"/><text transform="translate(633 1562) rotate(-90)">Kemme</text></g>
<g id="n-pilsheim"><rect class="sv" transform="translate(660 1570)"/><text transform="translate(663 1562) rotate(-90)">Pilsheim</text></g>
<g id="n-engelfeuer"><rect class="sv" transform="translate(690 1570)"/><text transform="translate(693 1562) rotate(-90)">Engelfeuer</text></g>
<g id="n-thur"><rect class="p" x="715" y="1565" width="10" height="20" rx="5"/><text transform="translate(723 1562) rotate(-90)">Thur</text></g>
<g id="n-weimarstetten"><rect class="sv" transform="translate(750 1570)"/><text transform="translate(753 1562) rotate(-90)">Weimarstetten</text></g>
<g id="n-wulfsode"><rect class="sv" transform="translate(780 1570)"/><text transform="translate(783 1562) rotate(-90)">Wulfsode</text></g>
<g id="n-lehendorf"><rect class="p" x="805" y="1565" width="10" height="20" rx="5"/><text transform="translate(813 1562) rotate(-90)">Lehendorf</text></g>
<g id="n-speierberg"><rect class="sv" transform="translate(840 1570)"/><text transform="translate(843 1562) rotate(-90)">Speierberg</text></g>
<g id="n-leiper"><rect class="p" x="865" y="1565" width="10" height="20" rx="5"/><text transform="translate(873 1562) rotate(-90)">Leiper</text></g>
<g id="n-krippen"><rect class="sv" transform="translate(900 1570)"/><text transform="translate(903 1562) rotate(-90)">Krippen</text></g>
<g id="n-traunfeld"><rect class="sv" transform="translate(930 1570)"/><text transform="translate(933 1562) rotate(-90)">Traunfeld</text></g>
<g id="n-harkenmissen"><rect class="sv" transform="translate(960 1570)"/><text transform="translate(963 1562) rotate(-90)">Harkenmissen</text></g>
<g id="n-schemm-zentral"><rect class="p" x="985" y="1565" width="10" height="20" rx="5"/><text transform="translate(993 1562) rotate(-90)">Schemm Zentral</text></g>
<g id="n-schemm-strandbad"><rect class="sv" transform="translate(1020 1570)"/><text transform="translate(1023 1562) rotate(-90)">Schemm Strandbad</text></g>
<g id="n-wittersau"><rect class="sv" transform="translate(1050 1570)"/><text transform="translate(1053 1562) rotate(-90)">Wittersau b. Immenhof</text></g>
<g id="n-immenhof"><rect class="p" x="1075" y="1565" width="10" height="20" rx="5"/><text transform="translate(1083 1562) rotate(-90)">Immenhof</text></g>
<g id="n-hatten"><rect class="sv" transform="translate(1110 1570)"/><text transform="translate(1113 1562) rotate(-90)">Hatten-Gehau</text></g>
<g id="n-karmham"><rect class="sv" transform="translate(1140 1570)"/><text transform="translate(1143 1562) rotate(-90)">Karmham</text></g>
<g id="n-posit"><rect class="sv" transform="translate(1170 1570)"/><text transform="translate(1173 1562) rotate(-90)">Posit</text></g>
</svg>
